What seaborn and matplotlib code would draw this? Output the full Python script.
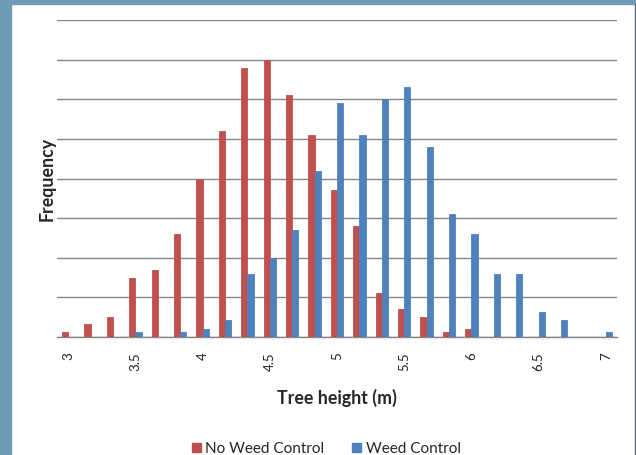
import numpy as np
import pandas as pd
import matplotlib.pyplot as plt
import seaborn as sns
from matplotlib.patches import Rectangle

# =========================================================
# 1. DATA
# =========================================================

tree_heights = [3.0, 3.17, 3.33, 3.5, 3.67, 3.83, 4.0, 4.17, 4.33, 4.5, 4.67, 4.83,
                5.0, 5.17, 5.33, 5.5, 5.67, 5.83, 6.0, 6.17, 6.33, 6.5, 6.67, 6.83, 7.0]

tick_labels = ["3", "", "", "3.5", "", "", "4", "", "", "4.5", "", "", "5",
               "", "", "5.5", "", "", "6", "", "", "6.5", "", "", "7"]

no_weed_control = [1.2, 3.2, 5.1, 15, 17, 26, 40, 52, 68, 70, 61, 51, 37,
                   28, 11, 7, 5, 1.2, 2.1, 0, 0, 0, 0, 0, 0]

weed_control = [0, 0, 0, 1.2, 0, 1.2, 2.1, 4.2, 16, 20, 27, 42, 59,
                51, 60, 63, 48, 31, 26, 16, 16, 6.2, 4.2, 0, 1.2]

series_names = ["No Weed Control", "Weed Control"]
colors = ["#C0504D", "#4F81BD"]

df = pd.DataFrame({
    "height": [str(h) for h in tree_heights] * 2,
    "freq": no_weed_control + weed_control,
    "series": [series_names[0]] * len(tree_heights) + [series_names[1]] * len(tree_heights),
})
order = [str(h) for h in tree_heights]

# =========================================================
# 2. PLOT
# =========================================================

sns.set_style("white")
plt.rcParams["font.family"] = ["Lato", "DejaVu Sans"]

fig = plt.figure(figsize=(6.36, 4.55), dpi=100, facecolor="white")
ax = fig.add_axes([57 / 636, 118 / 455, 560 / 636, 317 / 455])

# frame bits of the screenshot
fig.patches.append(Rectangle((0, 0), 11 / 636, 1, transform=fig.transFigure,
                             color="#6E9CB6", zorder=0))
fig.patches.append(Rectangle((0, 451 / 455), 1, 4 / 455, transform=fig.transFigure,
                             color="#6E9CB6", zorder=0))
fig.patches.append(Rectangle((634.5 / 636, 0), 1.5 / 636, 451 / 455,
                             transform=fig.transFigure, color="#4A6478", zorder=0))

sns.barplot(data=df, x="height", y="freq", hue="series", order=order,
            hue_order=series_names, palette=colors, width=0.56,
            saturation=1, linewidth=0.6, edgecolor="#ffffff", ax=ax, legend=False)

for bar in ax.patches:
    bar.set_edgecolor(bar.get_facecolor())
    bar.set_zorder(3)

ax.set_xlim(-0.5, len(tree_heights) - 0.5)
ax.set_ylim(0, 80)
ax.set_yticks(np.arange(0, 81, 10))
ax.set_yticklabels([])
ax.yaxis.grid(True, color="#868686", linewidth=1)
ax.set_axisbelow(True)
ax.tick_params(axis="y", length=0, pad=0)

ax.set_xticks(range(len(tree_heights)))
ax.set_xticklabels(tick_labels, rotation=90, fontsize=9.5, color="#222222")
ax.set_xticks(np.arange(-0.5, len(tree_heights), 1), minor=True)
ax.tick_params(axis="x", which="major", length=0, pad=11)
ax.tick_params(axis="x", which="minor", length=5, width=1, color="#868686",
               direction="out")

for side in ["top", "right", "left"]:
    ax.spines[side].set_visible(False)
ax.spines["bottom"].set_color("#868686")
ax.spines["bottom"].set_linewidth(1)

ax.set_xlabel("Tree height (m)", fontsize=12.8, fontweight="bold", labelpad=13)
ax.set_ylabel("Frequency", fontsize=12.8, fontweight="bold", labelpad=1)

handles = [Rectangle((0, 0), 1, 1, color=c) for c in colors]
fig.legend(handles, series_names, loc="lower center", bbox_to_anchor=(0.513, -0.032),
           ncol=2, frameon=False, fontsize=11, handlelength=0.6, handleheight=0.6,
           handletextpad=0.3, columnspacing=1.8)

plt.savefig("out.png", dpi=100, facecolor="white")
